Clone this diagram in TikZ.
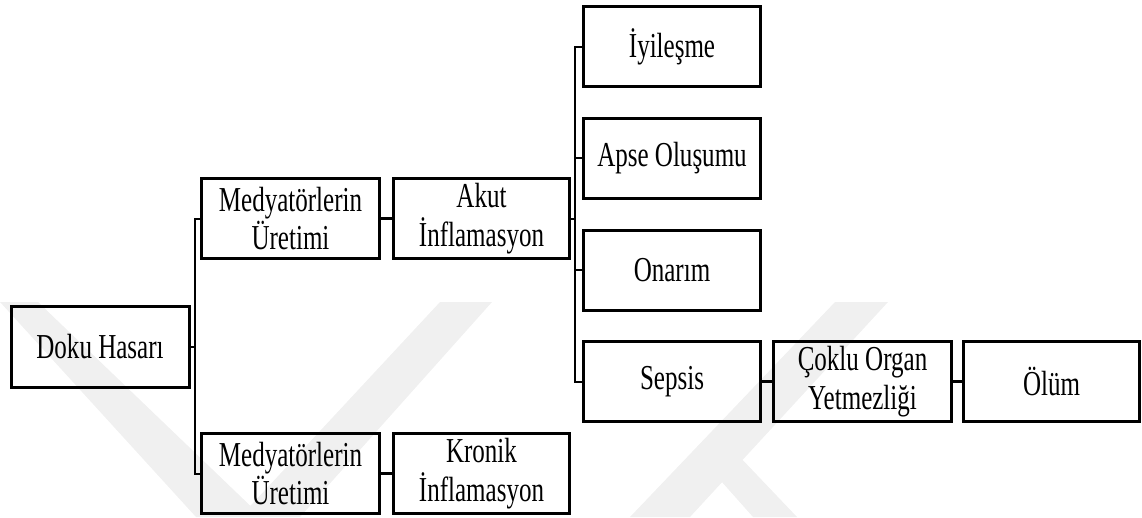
\documentclass[tikz,border=0pt]{standalone}
\usepackage{fontspec}
\setmainfont[FakeStretch=0.715]{Liberation Serif}
\usepackage{xcolor}
\usepackage{tikz}
\usetikzlibrary{positioning,calc}
\definecolor{wmgray}{RGB}{240,240,240}

\begin{document}
\begin{tikzpicture}[x=1pt,y=-1pt,
  box/.style={draw,line width=3pt,minimum height=80pt,inner sep=1pt,align=center,
    font=\fontsize{35}{38.5}\selectfont},
  wide/.style={box,minimum width=178pt},
  bus/.style={line width=2pt},
  stub/.style={line width=3.5pt}]
  \useasboundingbox (0,0) rectangle (1142,517);
  % ---- watermark in the background
  \fill[wmgray] (0,302) -- (38,302) -- (262,517) -- (196,517) -- cycle;
  \fill[wmgray] (440,302) -- (492,302) -- (300,517) -- (240,517) -- cycle;
  \fill[wmgray] (835,302) -- (888,302) -- (690,517) -- (630,517) -- cycle;
  \fill[wmgray] (697,454) -- (737,454) -- (797,517) -- (753,517) -- cycle;
  % ---- boxes
  \node[wide,minimum height=81pt] (doku) at (100,347) {Doku Hasarı};
  \node[wide] (med1) at (290.5,218.5) {Medyatörlerin\\Üretimi};
  \node[wide] (med2) at (290.5,473.5) {Medyatörlerin\\Üretimi};
  \node[box,minimum width=176pt] (akut) at (481.5,218.5) {Akut\\İnflamasyon};
  \node[box,minimum width=176pt] (kronik) at (481.5,473.5) {Kronik\\İnflamasyon};
  \node[box,minimum width=177pt] (iyi) at (672,46.5) {İyileşme};
  \node[box,minimum width=177pt] (apse) at (672,158) {Apse Oluşumu};
  \node[box,minimum width=177pt] (onarim) at (672,270) {Onarım};
  \node[box,minimum width=177pt] (sepsis) at (672,381.5) {Sepsis};
  \node[wide] (coklu) at (862.5,381.5) {Çoklu Organ\\Yetmezliği};
  \node[box,minimum width=176pt] (olum) at (1051.5,381.5) {Ölüm};
  % ---- connectors
  \foreach \t in {med1,med2}
    \draw[bus] (doku.east) -- ++(4,0) |- (\t.west);
  \foreach \t in {iyi,apse,onarim,sepsis}
    \draw[bus] (akut.east) -- ++(3.5,0) |- (\t.west);
  \draw[stub] (med1) -- (akut);
  \draw[stub] (med2) -- (kronik);
  \draw[stub] (sepsis) -- (coklu);
  \draw[stub] (coklu) -- (olum);
\end{tikzpicture}
\end{document}
